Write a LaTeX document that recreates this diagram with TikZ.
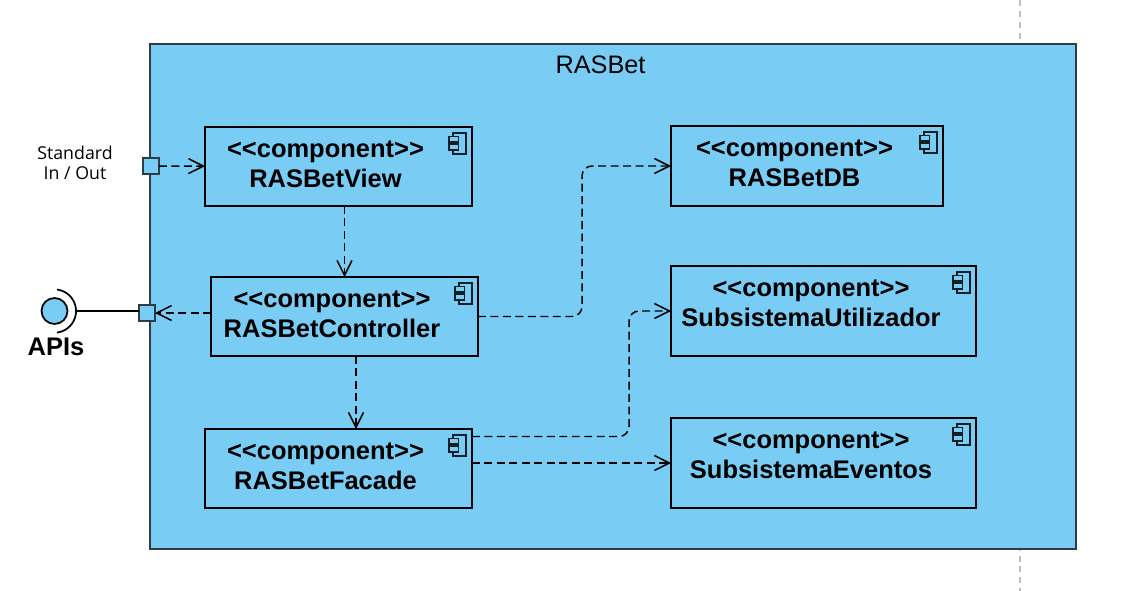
\documentclass[tikz,border=0pt]{standalone}
\usepackage{fontspec}
\setmainfont{Liberation Sans}
\newfontfamily\notefont{Open Sans}
\usetikzlibrary{arrows.meta, positioning, calc}
\definecolor{compblue}{HTML}{79CDF5}
\definecolor{framegrey}{HTML}{2F3B45}
\newcommand{\stereotype}{<{}<component>{}>}
\tikzset{
  comp/.style={rectangle,draw=black,line width=1.1pt,fill=compblue,inner sep=0pt,outer sep=0pt},
  comptext/.style={align=center,inner sep=0pt,font=\fontsize{14.5}{17}\selectfont\bfseries},
  port/.style={rectangle,draw=framegrey,line width=1pt,fill=compblue,minimum size=0.32cm,inner sep=0pt,outer sep=0pt},
  dep/.style={->,dash pattern=on 4.5pt off 2.6pt,line width=0.85pt},
  compicon/.pic={
    \draw[line width=0.85pt,draw=black!85!compblue] (-13.5,6) -- (-6,6) -- (-6,27) -- (-19,27) -- (-19,6) -- cycle;
    \draw[line width=0.85pt,draw=black!85!compblue,fill=compblue] (-23,9.5) rectangle (-13.5,15);
    \draw[line width=0.85pt,draw=black!85!compblue,fill=compblue] (-23,17) rectangle (-13.5,23);
  }
}

\begin{document}
\begin{tikzpicture}[x=0.02cm,y=-0.02cm,>={Straight Barb[length=8.5pt,width=8.5pt]}]
\useasboundingbox (0,0) rectangle (1132,591);

% Lifeline behind the frame
\coordinate (linetop) at (1020,0);
\coordinate (linebottom) at (1020,591);
\draw[black!25,line width=0.8pt,dash pattern=on 3.4pt off 2.8pt] (linetop) -- (linebottom);

% Outer frame
\node[rectangle,draw=framegrey,line width=1.1pt,fill=compblue,minimum width=18.52cm,minimum height=10.1cm,inner sep=0pt] (rasbet) at (613,296.5) {};
\node[font=\fontsize{14.4}{17}\selectfont] (rasbettitle) at (600.5,65) {RASBet};

% Left column
\node[comp,minimum width=5.34cm,minimum height=1.58cm] (view) at (338.5,166.5) {};
\node[comptext] (viewtext) at (325.5,164) {\stereotype\\RASBetView};
\node[comp,minimum width=5.34cm,minimum height=1.58cm] (ctrl) at (344.5,316.5) {};
\node[comptext] (ctrltext) at (332,314.5) {\stereotype\\RASBetController};
\node[comp,minimum width=5.34cm,minimum height=1.58cm] (facade) at (338.5,468.5) {};
\node[comptext] (facadetext) at (325.5,466) {\stereotype\\RASBetFacade};

% Right column
\node[comp,minimum width=5.44cm,minimum height=1.6cm] (db) at (807,166) {};
\node[comptext] (dbtext) at (794.5,163) {\stereotype\\RASBetDB};
\node[comp,minimum width=6.1cm,minimum height=1.8cm] (util) at (823.5,311) {};
\node[comptext] (utiltext) at (811,303.5) {\stereotype\\SubsistemaUtilizador};
\node[comp,minimum width=6.1cm,minimum height=1.8cm] (event) at (823.5,463) {};
\node[comptext] (eventtext) at (811,455.5) {\stereotype\\SubsistemaEventos};

% Component icons
\pic at (view.north east) {compicon};
\pic at (ctrl.north east) {compicon};
\pic at (facade.north east) {compicon};
\pic at (db.north east) {compicon};
\pic at (util.north east) {compicon};
\pic at (event.north east) {compicon};

% Ports
\node[port] (portio) at (151,166) {};
\node[port] (portapi) at (147,313) {};
\node[font=\notefont\fontsize{10.1}{11.6}\selectfont,align=center,inner sep=0pt] (iotext) at (75,163) {Standard\\In / Out};

% Provided interface
\node[circle,draw=black,line width=1pt,fill=compblue,minimum size=0.52cm,inner sep=0pt,outer sep=0pt] (api) at (54.5,311) {};
\coordinate (apisocket) at (76,311);
\draw[black,line width=1pt] (57,289.5) arc[start angle=-83,end angle=83,radius=21.7];
\node[font=\fontsize{14.5}{17}\selectfont\bfseries,inner sep=0pt] (apitext) at (56,347) {APIs};
\draw[black,line width=0.9pt] (apisocket) -- (apisocket -| portapi.west);

% Bend points
\coordinate (bendctrl) at (356,392);
\coordinate (benddb) at (582,240);
\coordinate (bendutil) at (629,370);
\coordinate (facadeout) at (472,436.5);

% Connectors
\draw[dep] (portio) -- (view);
\draw[dep] (ctrl.north |- view.south) -- (ctrl);
\draw[dep] (ctrl.west |- portapi) -- (portapi);
\draw[dep] (bendctrl |- ctrl.south) -- (bendctrl |- facade.north);
\draw[dep,rounded corners=0.2cm] (ctrl.east) -- (ctrl.east -| benddb) -- (db.west -| benddb) -- (db.west);
\draw[dep,rounded corners=0.2cm] (facadeout) -- (facadeout -| bendutil) -- (util.west -| bendutil) -- (util.west);
\draw[dep] (facade.east |- event.west) -- (event.west);

\end{tikzpicture}
\end{document}
